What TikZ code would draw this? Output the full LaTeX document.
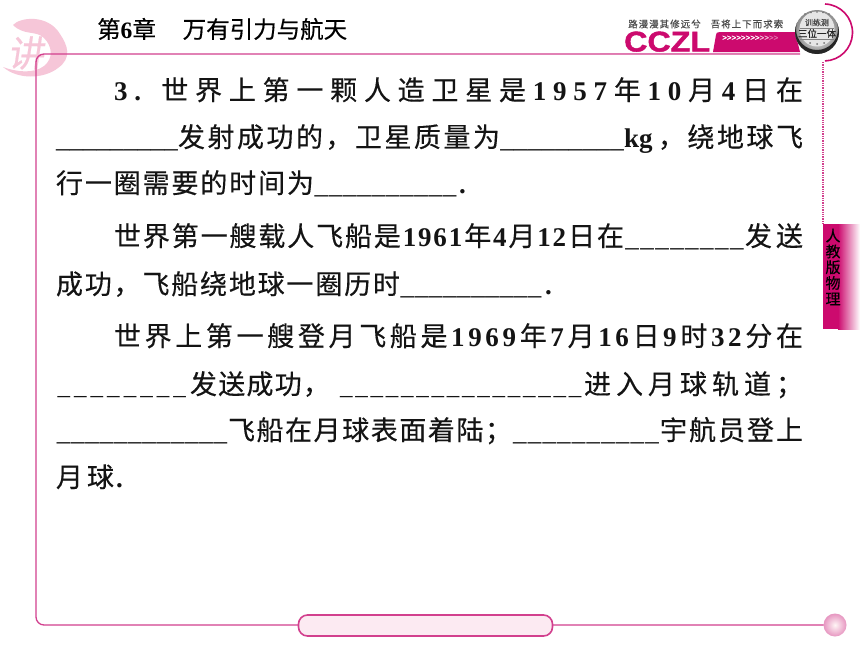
\documentclass[tikz,border=0pt]{standalone}
\usepackage{fontspec}
\setmainfont{Liberation Serif}
\newfontfamily\cjk[FakeBold=0.35]{Noto Sans CJK SC}
\newfontfamily\lsans[FakeBold=1.5]{Liberation Sans}
\usetikzlibrary{shadings}
\definecolor{framepink}{HTML}{D2408E}
\definecolor{band}{HTML}{CC0A6E}
\definecolor{wash}{HTML}{F6C6D8}
\definecolor{pill}{HTML}{FCEAF2}
\makeatletter
\newcommand\zh[1]{{\cjk\@tfor\zz:=#1\do{\zz\hskip 0pt plus 1fil\relax}}}
\newcommand\dg[1]{{\bfseries\@tfor\zz:=#1\do{\zz\hskip 0pt plus 1fil\relax}}}
\makeatother
\newcommand\blank[1]{\hbox to #1pt{\xleaders\hbox{\_}\hfil}}
\newcommand\dblank[1]{{\fontsize{25}{25}\selectfont\hbox to #1pt{\xleaders\hbox to 15pt{\_\hfil}\hfil}}}
\newcommand\seg[5]{\node[seg] (#1) at (#2,#3) {\hbox to #4pt{#5\unskip}};}
\tikzset{
  seg/.style={anchor=base west,inner sep=0pt,outer sep=0pt,font=\fontsize{27}{27}\selectfont,text=black!92},
  frameline/.style={draw=framepink,line width=1.3pt},
}
\begin{document}
\begin{tikzpicture}[x=1pt,y=-1pt]
\useasboundingbox (0,0) rectangle (860,645);
\fill[white] (0,0) rectangle (860,645);
% watermark swoosh
\fill[wash] (13,25) .. controls (20,17) and (48,14) .. (60,34)
  .. controls (68,46) and (72,58) .. (58,68)
  .. controls (44,79) and (18,80) .. (3,67)
  .. controls (16,72) and (34,74) .. (44,66)
  .. controls (54,58) and (52,46) .. (44,38)
  .. controls (36,30) and (24,36) .. (13,25) -- cycle;
\node[inner sep=0pt,text=wash,font=\cjk\fontsize{36}{36}\selectfont,xslant=0.15] (jiang) at (28,53) {讲};
% frame
\coordinate (tl) at (36,54);
\coordinate (tr) at (800,54);
\coordinate (bl) at (36,625);
\coordinate (br) at (825,625);
\draw[frameline] (tr) -- (44,54) arc[start angle=270,end angle=180,radius=8] -- (36,617) arc[start angle=180,end angle=90,radius=8] -- (br);
\draw[framepink,line width=1.3pt,densely dotted] (823,62) -- (823,224);
\draw[band,line width=1.6pt] (825,4) arc[start angle=-88,end angle=88,radius=28.5];
% pill and ball
\node[draw=framepink,line width=1.6pt,fill=pill,rounded corners=9pt,minimum width=254pt,minimum height=21pt,inner sep=0pt] (pillbox) at (425.5,625.5) {};
\shade[inner color=white!85!pink,outer color=framepink!55] (835,625) circle[radius=11.5];
% header
\node[anchor=base west,inner sep=0pt,font=\fontsize{23.5}{23.5}\selectfont] (hd) at (97,38) {\hbox to 250pt{\cjk 第{\rmfamily\bfseries 6}章\hfil 万有引力与航天}};
% logo
\fill[band] (716,35) .. controls (716,33) and (717,32) .. (720,32) -- (795,32) -- (800,52) -- (713,52) -- cycle;
\draw[framepink!70,line width=1.2pt] (600,53.5) -- (800,53.5);
\node[inner sep=0pt,anchor=west,font=\fontsize{9.5}{9.5}\selectfont,text=black!70] (motto) at (628,24) {\hbox to 155pt{\cjk 路\hfil 漫\hfil 漫\hfil 其\hfil 修\hfil 远\hfil 兮\hskip 10pt 吾\hfil 将\hfil 上\hfil 下\hfil 而\hfil 求\hfil 索}};
\node[inner sep=0pt,anchor=base west,text=band,font=\fontsize{28.5}{28.5}\selectfont] (cczl) at (624,51.5) {\scalebox{1.13}[1]{\lsans\bfseries CCZL}};
\node[inner sep=0pt,anchor=west,font=\lsans\fontsize{8}{8}\selectfont] (chev) at (722,38) {\textcolor{white}{>{}>{}>{}>{}>{}>{}>{}>{}}\textcolor{white!70!band}{>{}>{}}\textcolor{white!40!band}{>{}>}};
\shade[inner color=white,outer color=black!45] (817,32) circle[radius=22];
\begin{scope}
\clip (817,32) circle[radius=22];
\fill[black!85,even odd rule] (790,0) rectangle (845,60) (817,29) circle[radius=21];
\end{scope}
\fill[black!10] (817,29) circle[radius=17.5];
\fill[black!55] (805,14) circle[radius=0.8] (811,12.5) circle[radius=0.8] (817,12) circle[radius=0.8] (823,12.5) circle[radius=0.8] (829,14) circle[radius=0.8];
\fill[black!55] (810,43) circle[radius=1] (817,44) circle[radius=1] (824,43) circle[radius=1];
\draw[black!50,line width=0.5pt] (800,28) -- (834,28) (800,39) -- (834,39);
\node[inner sep=0pt,font=\cjk\fontsize{8}{8}\selectfont,text=black!75] (b1) at (817,22.5) {训练测};
\node[inner sep=0pt,font=\cjk\fontsize{9.5}{9.5}\selectfont,text=black!85] (b2) at (817,33.5) {三位一体};
% sidebar
\fill[band] (823,224) rectangle (838,329);
\shade[left color=band,right color=white] (838,224) rectangle (860,329);
\node[inner sep=0pt,align=center,font=\cjk\fontsize{15}{15.8}\selectfont] (side) at (833,267) {人\\教\\版\\物\\理};
% text lines
\seg{l1}{114}{100}{689}{\dg{3.}\hskip 0pt plus 2fil\zh{世界上第一颗人造卫星是}\dg{1957}\zh{年}\dg{10}\zh{月}\dg{4}\zh{日在}}
\node[seg] (l2a) at (56,147) {\blank{122}};
\seg{l2b}{178}{147}{322}{\zh{发射成功的^^^^ff0c卫星质量为}}
\node[seg] (l2c) at (500,147) {\blank{124}};
\node[seg,font=\fontsize{27}{27}\selectfont\bfseries] (l2d) at (624,147) {kg};
\seg{l2e}{658}{147}{145}{\zh{^^^^ff0c绕地球飞}}
\seg{l3a}{56}{193}{258}{\zh{行一圈需要的时间为}}
\node[seg] (l3b) at (314,193) {\blank{143}};
\node[seg,font=\fontsize{27}{27}\selectfont\bfseries] (l3c) at (459,193) {.};
\seg{l4a}{114}{246}{510}{\zh{世界第一艘载人飞船是}\dg{1961}\zh{年}\dg{4}\zh{月}\dg{12}\zh{日在}}
\node[seg] (l4b) at (624,246) {\blank{121}};
\seg{l4c}{745}{246}{58}{\zh{发送}}
\seg{l5a}{56}{294}{344}{\zh{成功^^^^ff0c飞船绕地球一圈历时}}
\node[seg] (l5b) at (400,294) {\blank{142}};
\node[seg,font=\fontsize{27}{27}\selectfont\bfseries] (l5c) at (545,294) {.};
\seg{l6a}{114}{346}{689}{\zh{世界上第一艘登月飞船是}\dg{1969}\zh{年}\dg{7}\zh{月}\dg{16}\zh{日}\dg{9}\zh{时}\dg{32}\zh{分在}}
\node[seg] (l7a) at (56,394) {\dblank{134}};
\seg{l7b}{190}{394}{140}{\zh{发送成功^^^^ff0c}}
\node[seg] (l7c) at (340,394) {\dblank{244}};
\seg{l7d}{584}{394}{219}{\zh{进入月球轨道^^^^ff1b}}
\node[seg] (l8a) at (56,440) {\blank{172}};
\seg{l8b}{228}{440}{284}{\zh{飞船在月球表面着陆^^^^ff1b}}
\node[seg] (l8c) at (512,440) {\blank{148}};
\seg{l8d}{660}{440}{143}{\zh{宇航员登上}}
\seg{l9a}{56}{487}{58}{\zh{月球}}
\node[seg,font=\fontsize{27}{27}\selectfont\bfseries] (l9b) at (116,487) {.};
\end{tikzpicture}
\end{document}
